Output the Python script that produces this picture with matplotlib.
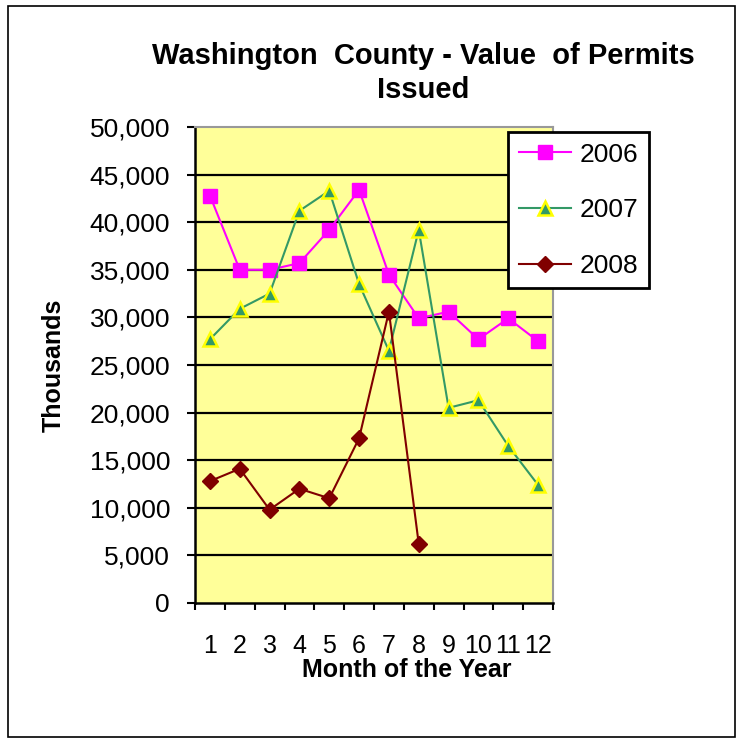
import matplotlib.pyplot as plt
from matplotlib.patches import Rectangle

plt.rcParams['font.family'] = ['Liberation Sans', 'DejaVu Sans']

months = [1, 2, 3, 4, 5, 6, 7, 8, 9, 10, 11, 12]
v2006 = [42800, 35000, 35000, 35700, 39200, 43400, 34500, 29900, 30600, 27700, 29900, 27500]
v2007 = [27700, 30900, 32500, 41200, 43300, 33500, 26500, 39200, 20500, 21300, 16500, 12400]
v2008 = [12800, 14100, 9800, 12000, 11000, 17300, 30600, 6200]
months_2008 = months[:len(v2008)]

fig = plt.figure(figsize=(7.39, 7.41), dpi=100)
fig.patches.append(Rectangle((8/739, 4/741), 727/739, 731/741, transform=fig.transFigure,
                             fill=False, edgecolor='black', linewidth=1.2))

ax = fig.add_axes([195/739, 138/741, 358/739, 476/741])
ax.set_facecolor('#FFFF99')

ax.plot(months, v2006, color='#FF00FF', lw=1.5, marker='s', ms=10.5,
        mfc='#FF00FF', mec='#FF00FF', label='2006', zorder=3)
ax.plot(months, v2007, color='#339966', lw=1.5, marker='^', ms=10,
        mfc='#339966', mec='#FFFF00', mew=1.8, label='2007', zorder=3)
ax.plot(months_2008, v2008, color='#800000', lw=1.5, marker='D', ms=8.5,
        mfc='#800000', mec='#800000', label='2008', zorder=3)

ax.set_xlim(0.5, 12.5)
ax.set_ylim(0, 50000)
ax.set_yticks(range(0, 50001, 5000))
ax.set_yticklabels(['{:,}'.format(v) for v in range(0, 50001, 5000)], fontsize=19)
for y in range(5000, 50000, 5000):
    ax.axhline(y, color='black', lw=1.6, zorder=1)

ax.set_xticks([m - 0.5 for m in months] + [12.5])
ax.set_xticklabels([])
ax.set_xticks(months, minor=True)
ax.set_xticklabels([str(m) for m in months], minor=True, fontsize=18)
ax.tick_params(axis='x', which='minor', length=0, pad=22)
ax.tick_params(axis='x', which='major', length=5, width=1.5, direction='out')
ax.tick_params(axis='y', length=6, width=1.5, direction='out', pad=12)

for side in ['top', 'right']:
    ax.spines[side].set_color('#999999')
    ax.spines[side].set_linewidth(1.5)
for side in ['left', 'bottom']:
    ax.spines[side].set_linewidth(1.8)

ax.set_ylabel('Thousands', fontsize=18, fontweight='bold', labelpad=17)
ax.set_xlabel('Month of the Year', fontsize=18, fontweight='bold')
ax.xaxis.set_label_coords(0.592, -0.115)

fig.text(423/739, 1 - 73/741, 'Washington  County - Value  of Permits\nIssued',
         ha='center', va='center', fontsize=21, fontweight='bold', linespacing=1.25)

leg = ax.legend(loc='upper left', bbox_to_anchor=(508/739, 1 - 132/741),
                bbox_transform=fig.transFigure, fontsize=19, frameon=True,
                fancybox=False, edgecolor='black', framealpha=1,
                handlelength=2.0, labelspacing=1.2, borderpad=0.4,
                handletextpad=0.3, borderaxespad=0)
leg.get_frame().set_linewidth(2)
leg.set_zorder(5)

fig.savefig('out.png', dpi=100)
